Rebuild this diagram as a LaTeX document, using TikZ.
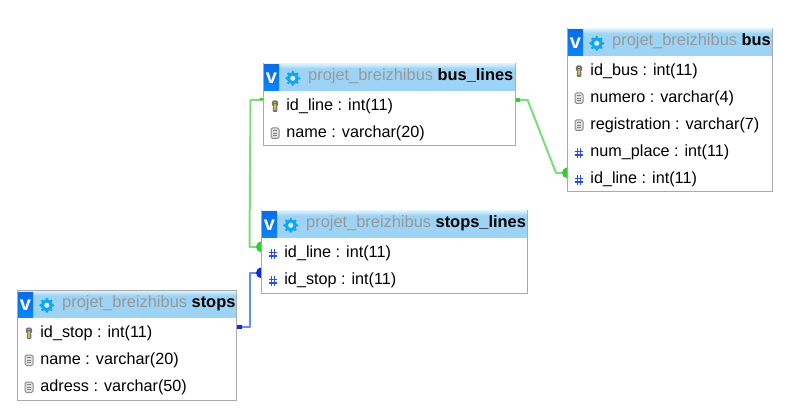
\documentclass[tikz,border=0pt]{standalone}
\usepackage{fontspec}
\setmainfont{Liberation Sans}
\usetikzlibrary{backgrounds,calc}
\definecolor{boxline}{HTML}{AAAAAA}
\definecolor{headblue}{HTML}{9DD4F6}
\definecolor{headlight}{HTML}{D8F0FC}
\definecolor{dbgray}{HTML}{999999}
\definecolor{gearblue}{HTML}{12A5F0}
\definecolor{hashblue}{HTML}{2A4FE0}
\definecolor{linkgreen}{HTML}{7ADF7A}
\definecolor{dotgreen}{HTML}{33CC33}
\definecolor{linkblue}{HTML}{6A8CE8}
\definecolor{dotblue}{HTML}{0A2FD0}
\definecolor{vtop}{HTML}{0A6CE8}
\definecolor{vbottom}{HTML}{0A86F4}
\definecolor{keygold}{HTML}{D6BE3C}
\tikzset{
  tbl/.style={draw=boxline,line width=1pt,fill=white,anchor=north west,inner sep=0pt,outer sep=0pt},
  rowtext/.style={anchor=base west,inner sep=0pt,font=\fontsize{16.2}{19}\selectfont,text=black},
  headtext/.style={anchor=base west,inner sep=0pt,font=\fontsize{16.4}{19}\selectfont,text=dbgray},
  vmark/.style={anchor=center,inner sep=0pt,font=\fontsize{20}{22}\selectfont\bfseries,text=white},
  greenlink/.style={draw=linkgreen,line width=2pt,line join=round},
  bluelink/.style={draw=linkblue,line width=2pt,line join=round},
  greendot/.style={fill=dotgreen},
  bluedot/.style={fill=dotblue}
}
% #1 id, #2 x, #3 y, #4 w, #5 h, #6 name
\newcommand{\dbtable}[6]{%
  \node[tbl,minimum width=#4pt,minimum height=#5pt] (#1) at (#2,#3) {};
  \fill[headblue] ($(#1.north west)+(0.5,0.5)$) rectangle ($(#1.north east)+(-0.5,27.2)$);
  \shade[top color=headlight,bottom color=headblue] ($(#1.north west)+(0.5,0.5)$) rectangle ($(#1.north east)+(-0.5,5)$);
  \shade[top color=vtop,bottom color=vbottom] ($(#1.north west)+(0.5,1.5)$) rectangle ($(#1.north west)+(15.5,27)$);
  \node[vmark] (#1-v) at ($(#1.north west)+(8,14.5)$) {v};
  \fill[gearblue] ($(#1.north west)+(29.3,14.8)$) circle[radius=5.8];
  \foreach \a in {0,45,...,315}{\fill[gearblue] ($(#1.north west)+(29.3,14.8)+(\a:6.2)$) circle[radius=1.5];}
  \fill[headblue!40!white] ($(#1.north west)+(29.3,14.8)$) circle[radius=2.6];
  \node[headtext] (#1-t) at ($(#1.north west)+(44.5,17)$) {projet\_breizhibus \textcolor{black}{\bfseries #6}};
}
% #1 row id, #2 table, #3 baseline offset from table top, #4 icon macro, #5 text
\newcommand{\dbrow}[5]{%
  \node[rowtext] (#1) at ($(#2.north west)+(22.7,#3+0.7)$) {#5};
  \coordinate (#1-i) at ($(#2.north west)+(11.3,#3-5)$);
  #4{#1-i}
}
\newcommand{\keyicon}[1]{%
  \fill[black!55,rounded corners=1.5pt] ($(#1)+(-3,-4.5)$) rectangle ($(#1)+(3.2,1.5)$);
  \fill[black!55,rounded corners=1pt] ($(#1)+(-2,1)$) rectangle ($(#1)+(2.6,7)$);
  \fill[keygold] ($(#1)+(-1.2,-3.2)$) rectangle ($(#1)+(1.6,5.5)$);
  \fill[black!60] ($(#1)+(-0.4,-2.4)$) rectangle ($(#1)+(0.8,-1)$);
}
\newcommand{\colicon}[1]{%
  \draw[black!45,fill=black!12,line width=1pt,rounded corners=1.5pt] ($(#1)+(-3.8,-4)$) rectangle ($(#1)+(4.2,6.5)$);
  \draw[black!50,line width=0.7pt] ($(#1)+(-1.6,-1.5)$) -- ($(#1)+(2,-1.5)$) ($(#1)+(-1.6,1)$) -- ($(#1)+(2,1)$) ($(#1)+(-1.6,3.5)$) -- ($(#1)+(2,3.5)$);
}
\newcommand{\hashicon}[1]{%
  \draw[hashblue,line width=1.3pt] ($(#1)+(-1.6,-2.8)$) -- ($(#1)+(-1.6,7)$) ($(#1)+(1.8,-2.8)$) -- ($(#1)+(1.8,7)$)
    ($(#1)+(-3.8,0.6)$) -- ($(#1)+(4,0.6)$) ($(#1)+(-3.8,4)$) -- ($(#1)+(4,4)$);
}
\begin{document}
\begin{tikzpicture}[x=1pt,y=-1pt]
\useasboundingbox (0,0) rectangle (788,417);

\dbtable{bl}{263.5}{63.5}{252}{82}{bus\_lines}
\dbrow{bl-id}{bl}{46.5}{\keyicon}{id\_line : int(11)}
\dbrow{bl-name}{bl}{73.5}{\colicon}{name : varchar(20)}

\dbtable{bs}{567.5}{28.5}{205}{163}{bus}
\dbrow{bs-id}{bs}{46.5}{\keyicon}{id\_bus : int(11)}
\dbrow{bs-num}{bs}{73.5}{\colicon}{numero : varchar(4)}
\dbrow{bs-reg}{bs}{100.5}{\colicon}{registration : varchar(7)}
\dbrow{bs-place}{bs}{127.5}{\hashicon}{num\_place : int(11)}
\dbrow{bs-line}{bs}{154.5}{\hashicon}{id\_line : int(11)}

\dbtable{sl}{261.5}{210.5}{266}{83}{stops\_lines}
\dbrow{sl-line}{sl}{46.5}{\hashicon}{id\_line : int(11)}
\dbrow{sl-stop}{sl}{73.5}{\hashicon}{id\_stop : int(11)}

\dbtable{st}{17.5}{290.5}{219}{110}{stops}
\dbrow{st-id}{st}{46.5}{\keyicon}{id\_stop : int(11)}
\dbrow{st-name}{st}{73.5}{\colicon}{name : varchar(20)}
\dbrow{st-adr}{st}{100.5}{\colicon}{adress : varchar(50)}

\begin{pgfonlayer}{background}
  \fill[white] (0,0) rectangle (788,417);
  % bus_lines -> bus
  \coordinate (a1) at ($(bl.east |- bl-id)+(0,-6.7)$);
  \coordinate (b1) at ($(bs.west |- bs-line)+(0,-6.7)$);
  \draw[greenlink] (a1) -- ++(12,0) -- ($(b1)+(-11.5,0)$) -- (b1);
  \fill[greendot] ($(a1)+(0,-2)$) rectangle ($(a1)+(4.5,2)$);
  \fill[greendot] (b1) circle[radius=5.5];
  % bus_lines -> stops_lines
  \coordinate (a2) at ($(bl.west |- bl-id)+(0,-6.7)$);
  \coordinate (b2) at ($(sl.west |- sl-line)+(0,-6.7)$);
  \draw[greenlink] (a2) -- ++(-13,0) -- ($(b2)+(-12,0)$) -- (b2);
  \fill[greendot] ($(a2)+(-3.5,-2)$) rectangle (a2);
  \fill[greendot] (b2) circle[radius=5.5];
  % stops -> stops_lines
  \coordinate (a3) at ($(st.east |- st-id)+(0,-6.7)$);
  \coordinate (b3) at ($(sl.west |- sl-stop)+(0,-7.7)$);
  \draw[bluelink] (a3) -- ++(13.5,0) -- ($(b3)+(-11.5,0)$) -- (b3);
  \fill[bluedot] ($(a3)+(0,-2)$) rectangle ($(a3)+(5,2)$);
  \fill[bluedot] (b3) circle[radius=5.5];
\end{pgfonlayer}
\end{tikzpicture}
\end{document}
